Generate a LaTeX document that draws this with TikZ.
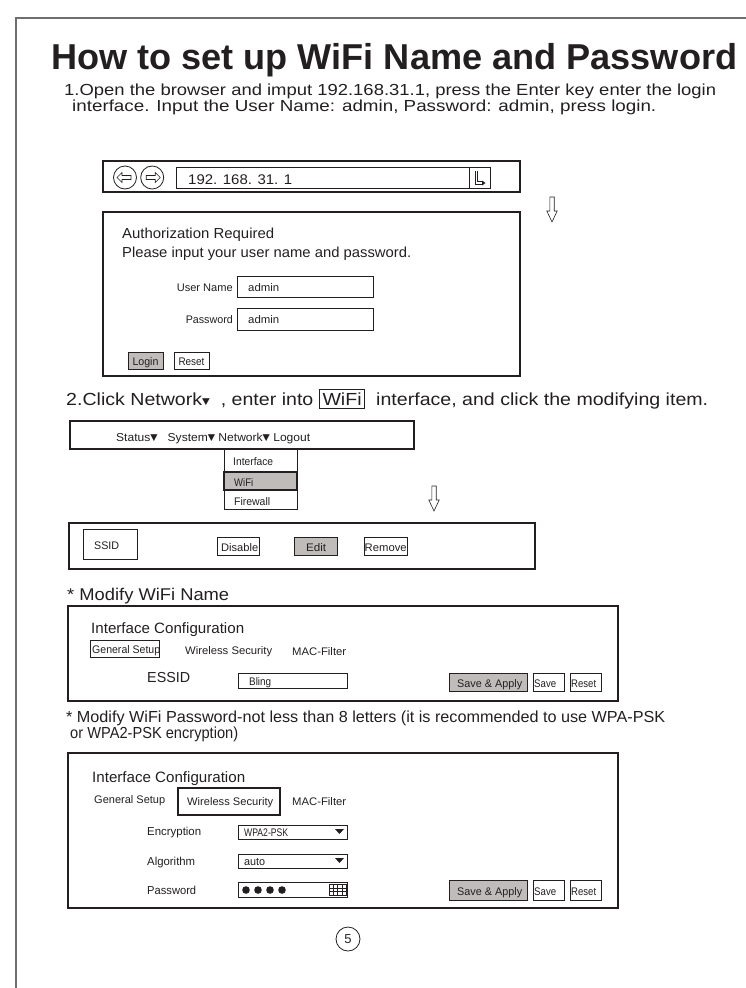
\documentclass[tikz,border=0pt]{standalone}
\usepackage{fontspec}
\setmainfont{Liberation Sans}
\newfontfamily\sym{DejaVu Sans}
\usepackage{graphicx}
\newcommand\fs[1]{\fontsize{#1}{#1}\selectfont}
\newcommand\W[2]{\resizebox{#1pt}{\height}{#2}}
\newcommand\tri{{\sym\fs{9}\raisebox{0.3pt}{▼}}}
\definecolor{ink}{RGB}{35,31,32}
\definecolor{btn}{RGB}{192,188,185}
\definecolor{frm}{RGB}{110,110,110}
\newcommand\hollowdown[2]{\draw[ink,line width=0.6pt] (#1,#2) ++(-2.2,0) -- ++(4.4,0) -- ++(0,14) -- ++(3,0) -- ++(-5.2,11) -- ++(-5.2,-11) -- ++(3,0) -- cycle;}
\begin{document}
\begin{tikzpicture}[x=1pt,y=-1pt,
  txt/.style={anchor=base west,inner sep=0,text=ink},
  rtxt/.style={anchor=base east,inner sep=0,text=ink},
  ctxt/.style={anchor=base,inner sep=0,text=ink},
  frame/.style={draw=ink,line width=1.1pt},
  fieldbox/.style={draw=ink,line width=0.8pt},
  btnbox/.style={draw=ink,line width=0.8pt},
  graybtn/.style={draw=ink,line width=0.8pt,fill=btn},
]
\useasboundingbox (0,0) rectangle (746,988);
\draw[frm,line width=1.3pt] (746,18) -- (16,18) -- (16,988);

% title and step 1
\node[txt] (title) at (51,69) {\fs{36}\bfseries\W{686}{How to set up WiFi Name and Password}};
\node[txt] (s1a) at (64,95) {\fs{16}\W{652}{1.Open the browser and imput 192.168.31.1, press the Enter key enter the login}};
\node[txt] (s1b) at (72,111) {\fs{16}\W{584}{interface. Input the User Name: admin, Password: admin, press login.}};

% browser bar
\draw[frame] (103,161) rectangle (520,192);
\draw[ink,line width=0.8pt] (125,177.5) circle (11.5) (152.2,177.5) circle (11.5);
\draw[ink,line width=0.6pt] (117,177.5) -- ++(5,-5) -- ++(0,3) -- ++(9,0) -- ++(0,4) -- ++(-9,0) -- ++(0,3) -- cycle;
\draw[ink,line width=0.6pt] (160.2,177.5) -- ++(-5,-5) -- ++(0,3) -- ++(-9,0) -- ++(0,4) -- ++(9,0) -- ++(0,3) -- cycle;
\draw[fieldbox] (176,167) rectangle (490,188);
\draw[fieldbox] (469,167) -- (469,188);
\node[txt] (url) at (188,184) {\fs{14}\W{104}{192. 168. 31. 1}};
\draw[ink,line width=0.7pt] (475,171) -- (475,184) -- (482,184);
\draw[ink,line width=0.5pt] (477.3,171) -- (477.3,181.7) -- (482,181.7);
\fill[ink] (482,180.5) -- (485.5,183) -- (482,185.5) -- cycle;
\hollowdown{552}{197}

% login box
\draw[frame] (103,212) rectangle (520,376);
\node[txt] (auth1) at (122,238) {\fs{14.5}\W{152}{Authorization Required}};
\node[txt] (auth2) at (122,257) {\fs{14.5}\W{289}{Please input your user name and password.}};
\node[rtxt] (unl) at (233,291.5) {\fs{11}\W{56}{User Name}};
\draw[fieldbox] (237,276) rectangle (373,297);
\node[txt] (unv) at (248,291.5) {\fs{11}\W{31}{admin}};
\node[rtxt] (pwl) at (233,323.5) {\fs{11}\W{47}{Password}};
\draw[fieldbox] (237,308) rectangle (373,330);
\node[txt] (pwv) at (248,323.5) {\fs{11}\W{31}{admin}};
\draw[graybtn] (128,352) rectangle (163,369);
\node[ctxt] (login) at (145.5,365.5) {\fs{11}\W{26}{Login}};
\draw[btnbox] (174,352) rectangle (209,369);
\node[ctxt] (reset) at (191.5,365.5) {\fs{11}\W{26}{Reset}};

% step 2
\node[txt] (s2) at (66,405) {\fs{17.5}\fboxsep=2.5pt\fboxrule=0.8pt\W{642}{2.Click Network{\sym\fs{9}\raisebox{1pt}{▼}}\ \ , enter into \fbox{WiFi}\ \ interface, and click the modifying item.}};
\draw[frame] (70,421) rectangle (414,449);
\node[txt] (menu) at (116,441) {\fs{11.5}\W{194}{Status\tri\ \ \ System\tri\ Network\tri\ Logout}};
\draw[fieldbox] (224,449) rectangle (297,509);
\draw[graybtn,line width=1.3pt] (224,472) rectangle (297,490);
\node[txt] (dd1) at (233,465) {\fs{11}\W{40}{Interface}};
\node[txt] (dd2) at (234,486) {\fs{11}\W{19}{WiFi}};
\node[txt] (dd3) at (234,505) {\fs{11}\W{36}{Firewall}};
\hollowdown{434}{486}

% SSID row
\draw[frame] (69,523) rectangle (535,569);
\draw[btnbox] (83,529) rectangle (137,559);
\node[txt] (ssid) at (94,549) {\fs{11}\W{25}{SSID}};
\draw[btnbox] (217,537) rectangle (259,555);
\node[txt] (dis) at (221,551) {\fs{11}\W{37}{Disable}};
\draw[graybtn] (294,537) rectangle (337,555);
\node[txt] (edit) at (306,551) {\fs{11}\W{20}{Edit}};
\draw[btnbox] (364,537) rectangle (407,555);
\node[txt] (rem) at (364.5,551) {\fs{11}\W{42}{Remove}};

% modify name
\node[txt] (mn) at (67,600) {\fs{17}\W{162}{* Modify WiFi Name}};
\draw[frame] (68,606) rectangle (618,701);
\node[txt] (ic1) at (91,633) {\fs{15}\W{153}{Interface Configuration}};
\draw[btnbox] (90,640) rectangle (159,657);
\node[txt] (gs1) at (92,653) {\fs{11}\W{68}{General Setup}};
\node[txt] (ws1) at (185,654) {\fs{11}\W{87}{Wireless Security}};
\node[txt] (mac1) at (292,655) {\fs{11}\W{54}{MAC-Filter}};
\node[txt] (essid) at (147,682) {\fs{14.5}\W{43}{ESSID}};
\draw[fieldbox] (238,673) rectangle (347,688);
\node[txt] (bling) at (249,685) {\fs{11}\W{22}{Bling}};
\draw[graybtn] (449,673) rectangle (527,691);
\node[txt] (sa1) at (457,687) {\fs{11}\W{65}{Save \& Apply}};
\draw[btnbox] (533,673) rectangle (564,691);
\node[txt] (sv1) at (534,687) {\fs{11}\W{22}{Save}};
\draw[btnbox] (570,673) rectangle (601,691);
\node[txt] (rs1) at (571,687) {\fs{11}\W{25}{Reset}};

% modify password
\node[txt] (mp1) at (66,722) {\fs{16}\W{599}{* Modify WiFi Password-not less than 8 letters (it is recommended to use WPA-PSK}};
\node[txt] (mp2) at (70,738) {\fs{16}\W{168}{or WPA2-PSK encryption)}};
\draw[frame] (68,753) rectangle (618,908);
\node[txt] (ic2) at (92,782) {\fs{15}\W{153}{Interface Configuration}};
\node[txt] (gs2) at (94,803) {\fs{11}\W{71}{General Setup}};
\draw[ink,line width=1.2pt] (178,788) rectangle (280,815);
\node[txt] (ws2) at (187,805) {\fs{11}\W{86}{Wireless Security}};
\node[txt] (mac2) at (292,805) {\fs{11}\W{54}{MAC-Filter}};
\node[txt] (enc) at (147,835) {\fs{11.5}\W{54}{Encryption}};
\draw[fieldbox] (238,825) rectangle (347,839);
\node[txt] (encv) at (244,836) {\fs{11}\W{44}{WPA2-PSK}};
\fill[ink] (335,829) -- (344,829) -- (339.5,834) -- cycle;
\node[txt] (alg) at (147,865) {\fs{11.5}\W{48}{Algorithm}};
\draw[fieldbox] (238,854) rectangle (347,868);
\node[txt] (algv) at (244,865) {\fs{11}\W{21}{auto}};
\fill[ink] (335,858) -- (344,858) -- (339.5,863) -- cycle;
\node[txt] (pw2) at (147,894) {\fs{11.5}\W{49}{Password}};
\draw[fieldbox] (238,882) rectangle (347,897);
\foreach \dx in {246,258,270,282} \fill[ink] (\dx,890) circle (3.8);
\draw[ink,line width=0.5pt] (329,884) rectangle (346,895);
\foreach \gx in {333.25,337.5,341.75} \draw[ink,line width=0.4pt] (\gx,884) -- (\gx,895);
\foreach \gy in {887.7,891.3} \draw[ink,line width=0.4pt] (329,\gy) -- (346,\gy);
\draw[graybtn] (449,880) rectangle (527,900);
\node[txt] (sa2) at (457,895) {\fs{11}\W{65}{Save \& Apply}};
\draw[btnbox] (533,880) rectangle (564,900);
\node[txt] (sv2) at (534,895) {\fs{11}\W{22}{Save}};
\draw[btnbox] (570,880) rectangle (601,900);
\node[txt] (rs2) at (571,895) {\fs{11}\W{25}{Reset}};

% page number
\node[draw=ink,circle,minimum size=24pt,inner sep=0,line width=0.8pt,text=ink] (pg) at (348,939) {\fs{13}5};
\end{tikzpicture}
\end{document}
